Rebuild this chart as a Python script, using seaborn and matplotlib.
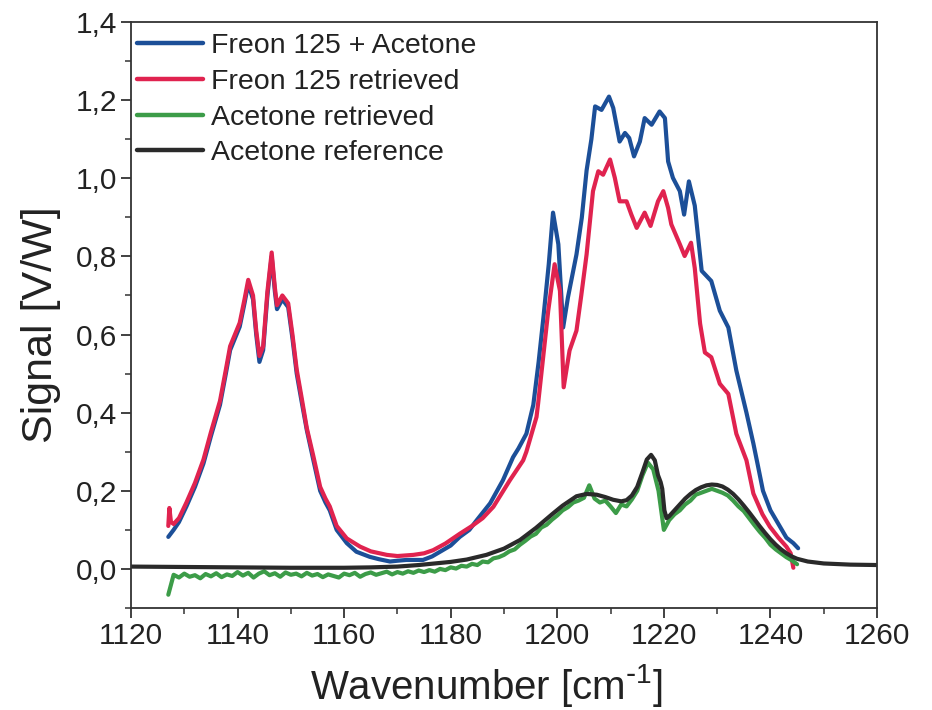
import numpy as np
import pandas as pd
import matplotlib
matplotlib.use("Agg")
import matplotlib.pyplot as plt
import seaborn as sns
from matplotlib.ticker import MultipleLocator, FixedLocator, FixedFormatter

# ---------------- data ----------------
blue_x = [1127.0, 1128.0, 1129.0, 1130.4, 1132.0, 1133.6, 1135.0, 1136.7, 1137.8, 1138.6,
          1139.5, 1140.4, 1141.3, 1142.0, 1142.9, 1143.5, 1144.1, 1144.8, 1145.6, 1146.4,
          1147.0, 1147.4, 1148.4, 1149.5, 1150.3, 1151.1, 1152.0, 1153.0, 1154.2, 1155.5,
          1156.5, 1157.3, 1158.6, 1160.5, 1162.3, 1164.8, 1166.5, 1168.6, 1170.0, 1171.7,
          1174.8, 1176.5, 1178.0, 1180.0, 1181.7, 1183.5, 1184.9, 1187.4, 1189.8, 1191.7,
          1192.7, 1194.2, 1195.5, 1196.5, 1197.4, 1198.4, 1199.2, 1200.2, 1201.1, 1202.0,
          1203.6, 1204.6, 1205.5, 1206.4, 1207.1, 1208.3, 1209.7, 1210.5, 1211.7, 1212.7,
          1213.5, 1214.4, 1215.5, 1216.4, 1217.7, 1219.2, 1220.2, 1220.8, 1221.7, 1223.0,
          1223.8, 1224.7, 1225.8, 1227.1, 1228.9, 1230.5, 1232.1, 1233.6, 1235.5, 1236.8,
          1237.7, 1238.6, 1240.0, 1241.8, 1243.0, 1244.3, 1245.2]
blue_y = [0.082, 0.100, 0.120, 0.160, 0.210, 0.270, 0.340, 0.420, 0.500, 0.560,
          0.590, 0.620, 0.680, 0.730, 0.690, 0.600, 0.530, 0.560, 0.700, 0.800,
          0.710, 0.665, 0.690, 0.670, 0.590, 0.500, 0.430, 0.355, 0.280, 0.200,
          0.170, 0.150, 0.100, 0.066, 0.044, 0.031, 0.025, 0.019, 0.021, 0.023,
          0.023, 0.032, 0.044, 0.060, 0.082, 0.100, 0.125, 0.168, 0.227, 0.286,
          0.308, 0.346, 0.420, 0.530, 0.644, 0.780, 0.912, 0.831, 0.618, 0.695,
          0.805, 0.899, 1.020, 1.100, 1.184, 1.175, 1.209, 1.180, 1.094, 1.116,
          1.103, 1.056, 1.094, 1.154, 1.137, 1.171, 1.154, 1.043, 1.001, 0.967,
          0.907, 0.992, 0.930, 0.763, 0.737, 0.661, 0.618, 0.508, 0.400, 0.321,
          0.261, 0.200, 0.150, 0.108, 0.080, 0.066, 0.053]

red_x = [1127.0, 1127.2, 1127.5, 1128.0, 1129.0, 1130.4, 1132.0, 1133.6, 1135.0, 1136.7,
         1137.8, 1138.6, 1139.5, 1140.4, 1141.3, 1142.0, 1142.9, 1143.5, 1144.1, 1144.8,
         1145.6, 1146.4, 1147.0, 1147.4, 1148.4, 1149.5, 1150.3, 1151.1, 1152.0, 1153.0,
         1154.2, 1155.5, 1156.5, 1157.3, 1158.6, 1160.5, 1163.0, 1165.0, 1168.0, 1170.0,
         1173.0, 1175.0, 1176.7, 1179.0, 1181.7, 1184.0, 1186.0, 1188.0, 1191.1, 1193.6,
         1194.2, 1196.1, 1196.4, 1198.3, 1199.5, 1200.5, 1201.2, 1202.3, 1203.6, 1204.5,
         1205.5, 1206.7, 1207.7, 1208.6, 1209.9, 1210.8, 1211.7, 1213.0, 1213.9, 1214.9,
         1216.4, 1217.5, 1218.9, 1219.9, 1220.8, 1221.4, 1223.0, 1223.9, 1225.1, 1225.8,
         1226.8, 1227.7, 1228.9, 1230.5, 1232.1, 1233.6, 1235.5, 1236.8, 1238.5, 1239.9,
         1241.5, 1243.0, 1243.8, 1244.3]
red_y = [0.110, 0.156, 0.120, 0.115, 0.130, 0.170, 0.220, 0.280, 0.350, 0.430,
         0.510, 0.570, 0.600, 0.630, 0.690, 0.740, 0.700, 0.610, 0.545, 0.570,
         0.710, 0.810, 0.720, 0.675, 0.700, 0.680, 0.600, 0.510, 0.440, 0.360,
         0.290, 0.210, 0.180, 0.160, 0.110, 0.078, 0.057, 0.045, 0.036, 0.033,
         0.036, 0.040, 0.048, 0.065, 0.090, 0.110, 0.130, 0.159, 0.227, 0.278,
         0.300, 0.389, 0.423, 0.661, 0.780, 0.712, 0.465, 0.559, 0.610, 0.700,
         0.805, 0.967, 1.018, 1.009, 1.048, 1.001, 0.941, 0.941, 0.907, 0.873,
         0.912, 0.878, 0.941, 0.967, 0.924, 0.882, 0.831, 0.801, 0.835, 0.770,
         0.628, 0.554, 0.542, 0.474, 0.448, 0.346, 0.278, 0.193, 0.140, 0.108,
         0.080, 0.057, 0.040, 0.003]

green_start = 1127
green_y = [-0.066, -0.015, -0.022, -0.012, -0.020, -0.016, -0.024, -0.013, -0.019, -0.011,
           -0.021, -0.014, -0.018, -0.008, -0.017, -0.010, -0.022, -0.012, -0.006, -0.016,
           -0.011, -0.020, -0.009, -0.015, -0.012, -0.019, -0.010, -0.017, -0.013, -0.021,
           -0.014, -0.018, -0.022, -0.012, -0.016, -0.010, -0.020, -0.013, -0.009, -0.015,
           -0.011, -0.007, -0.014, -0.008, -0.012, -0.006, -0.010, -0.004, -0.008, -0.003,
           -0.007, 0.000, -0.003, 0.004, 0.001, 0.008, 0.006, 0.013, 0.010, 0.019,
           0.017, 0.027, 0.030, 0.036, 0.045, 0.050, 0.062, 0.072, 0.083, 0.090,
           0.106, 0.113, 0.126, 0.137, 0.150, 0.158, 0.170, 0.175, 0.182, 0.214,
           0.180, 0.170, 0.175, 0.160, 0.143, 0.165, 0.160, 0.178, 0.200, 0.240,
           0.272, 0.255, 0.200, 0.100, 0.125, 0.140, 0.150, 0.165, 0.175, 0.190,
           0.195, 0.200, 0.205, 0.200, 0.195, 0.188, 0.175, 0.160, 0.148, 0.130,
           0.112, 0.095, 0.080, 0.062, 0.050, 0.040, 0.030, 0.022, 0.012]

black_x = [1120, 1130, 1140, 1150, 1160, 1165, 1170, 1174, 1180, 1183,
           1186.7, 1190, 1193, 1196, 1199.2, 1201, 1203.6, 1205.5, 1207.4, 1209,
           1210.5, 1212, 1213, 1214, 1215, 1216, 1216.8, 1217.6, 1218.3, 1218.9,
           1219.4, 1219.7, 1220.1, 1220.5, 1221, 1222, 1223, 1224, 1225, 1226,
           1227, 1228, 1229, 1230, 1231, 1232, 1233, 1234, 1235, 1236,
           1237, 1238, 1239, 1240, 1241, 1242, 1243, 1244, 1245, 1247,
           1250, 1255, 1260]
black_y = [0.006, 0.005, 0.004, 0.003, 0.003, 0.004, 0.006, 0.010, 0.018, 0.024,
           0.036, 0.052, 0.074, 0.105, 0.142, 0.162, 0.186, 0.192, 0.190, 0.184,
           0.177, 0.173, 0.176, 0.188, 0.210, 0.248, 0.280, 0.292, 0.278, 0.240,
           0.222, 0.205, 0.150, 0.130, 0.135, 0.150, 0.165, 0.180, 0.192, 0.202,
           0.209, 0.214, 0.216, 0.215, 0.211, 0.203, 0.192, 0.178, 0.162, 0.145,
           0.127, 0.109, 0.092, 0.076, 0.062, 0.050, 0.040, 0.032, 0.026, 0.019,
           0.014, 0.011, 0.010]

series_names = ["Freon 125 + Acetone", "Freon 125 retrieved", "Acetone retrieved", "Acetone reference"]
series_colors = ["#1c4f98", "#e0234f", "#3c9c48", "#2a2a2a"]

x_ticks = [1120, 1140, 1160, 1180, 1200, 1220, 1240, 1260]
y_ticks = [0.0, 0.2, 0.4, 0.6, 0.8, 1.0, 1.2, 1.4]
y_tick_labels = ["0,0", "0,2", "0,4", "0,6", "0,8", "1,0", "1,2", "1,4"]

# ---------------- build long table ----------------
green_x = list(np.arange(green_start, green_start + len(green_y)))
frames = []
for name, xs, ys in zip(series_names,
                        [blue_x, red_x, green_x, black_x],
                        [blue_y, red_y, green_y, black_y]):
    frames.append(pd.DataFrame({"x": xs, "y": ys, "series": name}))
df = pd.concat(frames, ignore_index=True)

# ---------------- style ----------------
sns.set_theme(style="ticks")
plt.rcParams["font.family"] = ["Liberation Sans", "DejaVu Sans"]
plt.rcParams["mathtext.default"] = "regular"

TXT = "#222222"
fig = plt.figure(figsize=(9.32, 7.10), dpi=100)
ax = fig.add_axes([131 / 932, 1 - 608 / 710, (877 - 131) / 932, (608 - 22) / 710])

sns.lineplot(data=df, x="x", y="y", hue="series", hue_order=series_names,
             palette=dict(zip(series_names, series_colors)),
             estimator=None, sort=False, linewidth=3.0, ax=ax)

ax.set_xlim(1120, 1260)
ax.set_ylim(-0.1, 1.4)
ax.xaxis.set_major_locator(FixedLocator(x_ticks))
ax.xaxis.set_minor_locator(MultipleLocator(10))
ax.yaxis.set_major_locator(FixedLocator(y_ticks))
ax.yaxis.set_major_formatter(FixedFormatter(y_tick_labels))
ax.yaxis.set_minor_locator(MultipleLocator(0.1))

for sp in ax.spines.values():
    sp.set_visible(True)
    sp.set_linewidth(1.3)
    sp.set_color("#333333")

ax.tick_params(axis="both", which="major", direction="out", length=7, width=1.3,
               labelsize=21.5, colors="#333333", pad=3, top=False, right=False)
ax.tick_params(axis="both", which="minor", direction="out", length=4, width=1.1,
               colors="#333333", top=False, right=False)
for lab in ax.get_xticklabels() + ax.get_yticklabels():
    lab.set_color(TXT)

ax.set_xlabel(r"Wavenumber [cm$^{\text{-}1}$]", fontsize=29, color=TXT)
ax.xaxis.set_label_coords(0.477, -0.093)
ax.set_ylabel("Signal [V/W]", fontsize=31, color=TXT)
ax.yaxis.set_label_coords(-0.094, 0.483)

leg = ax.legend(loc="upper left", bbox_to_anchor=(-0.007, 1.0), frameon=False,
                fontsize=20.5, handlelength=2.3, handletextpad=0.3,
                labelspacing=0.34, borderaxespad=0.1, borderpad=0.3)
for line in leg.get_lines():
    line.set_linewidth(3.2)
for t in leg.get_texts():
    t.set_color(TXT)

fig.savefig("out.png", dpi=100)
